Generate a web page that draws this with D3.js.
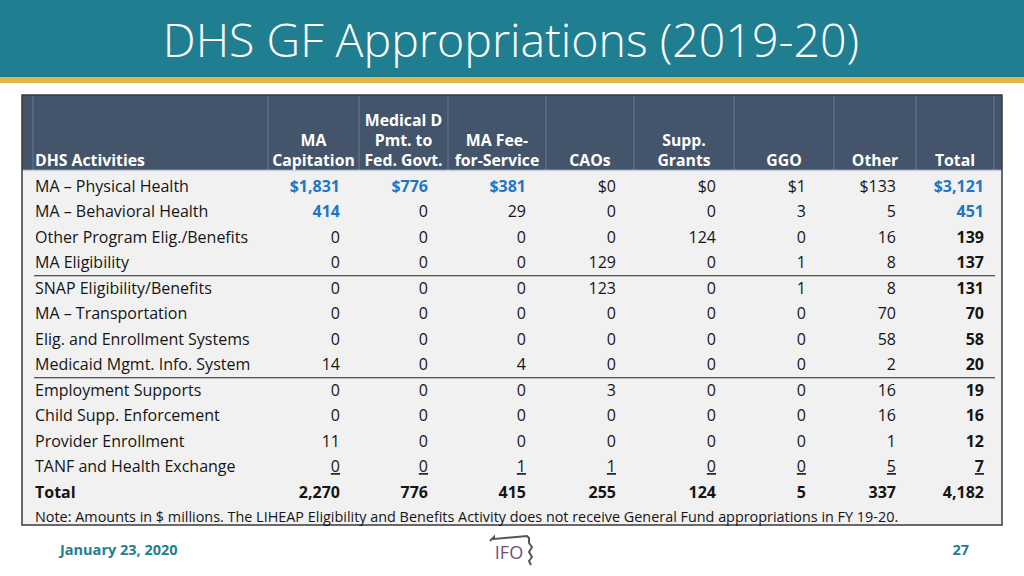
<!DOCTYPE html>
<html><head><meta charset="utf-8">
<script src="https://cdn.jsdelivr.net/npm/d3@7/dist/d3.min.js"></script>
<style>
html,body{margin:0;padding:0;background:#fff;}
svg{display:block;}
text{font-family:"Open Sans","Noto Sans",sans-serif;}
</style></head>
<body>
<script>
// ---------- DATA ----------
const title = "DHS GF Appropriations (2019-20)";
const activities = [
  "MA \u2013 Physical Health","MA \u2013 Behavioral Health","Other Program Elig./Benefits",
  "MA Eligibility","SNAP Eligibility/Benefits","MA \u2013 Transportation",
  "Elig. and Enrollment Systems","Medicaid Mgmt. Info. System","Employment Supports",
  "Child Supp. Enforcement","Provider Enrollment","TANF and Health Exchange"
];
const columnHeaders = [
  ["DHS Activities"],
  ["MA","Capitation"],
  ["Medical D","Pmt. to","Fed. Govt."],
  ["MA Fee-","for-Service"],
  ["CAOs"],
  ["Supp.","Grants"],
  ["GGO"],
  ["Other"],
  ["Total"]
];
const maCapitation = [1831, 414, 0, 0, 0, 0, 0, 14, 0, 0, 11, 0];
const medicalD     = [776, 0, 0, 0, 0, 0, 0, 0, 0, 0, 0, 0];
const maFeeForSvc  = [381, 29, 0, 0, 0, 0, 0, 4, 0, 0, 0, 1];
const caos         = [0, 0, 0, 129, 123, 0, 0, 0, 3, 0, 0, 1];
const suppGrants   = [0, 0, 124, 0, 0, 0, 0, 0, 0, 0, 0, 0];
const ggo          = [1, 3, 0, 1, 1, 0, 0, 0, 0, 0, 0, 0];
const other        = [133, 5, 16, 8, 8, 70, 58, 2, 16, 16, 1, 5];
const totals       = [3121, 451, 139, 137, 131, 70, 58, 20, 19, 16, 12, 7];
const columnTotals = [2270, 776, 415, 255, 124, 5, 337, 4182];
const totalLabel = "Total";
const note = "Note: Amounts in $ millions. The LIHEAP Eligibility and Benefits Activity does not receive General Fund appropriations in FY 19-20.";
const dateLabel = "January 23, 2020";
const pageNumber = "27";
// highlighted (blue) cells: [row, column]
const highlighted = [[0,0],[0,1],[0,2],[0,7],[1,0],[1,7]];
// rows after which a section rule is drawn
const sectionBreaks = [3, 7];

// ---------- LAYOUT ----------
const W = 1024, H = 576;
const tbl = {x0: 22, x1: 1002, y0: 95, headBottom: 170, y1: 525};
const colSeparators = [33, 268, 359, 448, 546, 634, 734, 834, 916, 994];
const valueRight = [340, 428, 526, 616, 716, 806, 896, 984];

const seriesCols = [maCapitation, medicalD, maFeeForSvc, caos, suppGrants, ggo, other, totals];
const nRows = activities.length + 1;

const svg = d3.select("body").append("svg").attr("width", W).attr("height", H);

// title bar
svg.append("rect").attr("x",0).attr("y",0).attr("width",W).attr("height",79).attr("fill","#1f7e90");
svg.append("rect").attr("x",0).attr("y",77).attr("width",W).attr("height",6).attr("fill","#e2b54a");
svg.append("text").attr("x",511).attr("y",57).attr("text-anchor","middle")
  .attr("fill","#fff").attr("font-size",46.5).attr("font-weight",300).text(title);

// table background
svg.append("rect").attr("x",tbl.x0).attr("y",tbl.y0).attr("width",tbl.x1-tbl.x0).attr("height",tbl.y1-tbl.y0)
  .attr("fill","#f1f1f1");
svg.append("rect").attr("x",tbl.x0).attr("y",tbl.y0).attr("width",tbl.x1-tbl.x0).attr("height",tbl.headBottom-tbl.y0)
  .attr("fill","#44546a");
// header column separators
svg.selectAll("line.sep").data(colSeparators).join("line").attr("class","sep")
  .attr("x1",d=>d).attr("x2",d=>d).attr("y1",tbl.y0).attr("y2",tbl.headBottom)
  .attr("stroke","#6b7a90").attr("stroke-width",1);
svg.append("line").attr("x1",tbl.x0).attr("x2",tbl.x1).attr("y1",tbl.headBottom+0.5).attr("y2",tbl.headBottom+0.5)
  .attr("stroke","#c9d3df").attr("stroke-width",1.5);
// outer border
svg.append("rect").attr("x",tbl.x0).attr("y",tbl.y0).attr("width",tbl.x1-tbl.x0).attr("height",tbl.y1-tbl.y0)
  .attr("fill","none").attr("stroke","#3a3a3a").attr("stroke-width",1.5);

// header text
const headLineY = d3.scaleLinear().domain([0,1]).range([160,140]); // from bottom line up
const headCenters = [null];
for (let i=1;i<colSeparators.length-1;i++) headCenters.push((colSeparators[i]+colSeparators[i+1])/2);
columnHeaders.forEach((lines,ci)=>{
  const g = svg.append("g");
  lines.slice().reverse().forEach((ln,k)=>{
    g.append("text")
      .attr("x", ci===0 ? 35 : headCenters[ci])
      .attr("y", headLineY(k)).attr("dy","0.35em")
      .attr("text-anchor", ci===0 ? "start" : "middle")
      .attr("fill","#fff").attr("font-weight",700).attr("font-size",15.8).text(ln);
  });
});

// rows
const y = d3.scaleBand().domain(d3.range(nRows)).range([173.25, 504.75]);
const rowC = i => y(i) + y.bandwidth()/2;
const fmt = d3.format(",");
const isHi = (r,c) => highlighted.some(h=>h[0]===r && h[1]===c);

const bodyFont = 16;
activities.forEach((a,r)=>{
  svg.append("text").attr("x",35).attr("y",rowC(r)).attr("dy","0.35em")
    .attr("font-size",bodyFont).attr("fill","#151515").text(a);
  seriesCols.forEach((col,c)=>{
    const v = col[r];
    const s = (r===0 ? "$" : "") + fmt(v);
    const t = svg.append("text").attr("x",valueRight[c]).attr("y",rowC(r)).attr("dy","0.35em")
      .attr("text-anchor","end").attr("font-size",bodyFont)
      .attr("fill", isHi(r,c) ? "#1f77c4" : "#151515")
      .attr("font-weight", (isHi(r,c) || c===7) ? 700 : 400)
      .text(s);
    if (r === activities.length-1) t.attr("text-decoration","underline");
  });
});
// total row
const tr = activities.length;
svg.append("text").attr("x",35).attr("y",rowC(tr)).attr("dy","0.35em")
  .attr("font-size",bodyFont).attr("font-weight",700).attr("fill","#151515").text(totalLabel);
columnTotals.forEach((v,c)=>{
  svg.append("text").attr("x",valueRight[c]).attr("y",rowC(tr)).attr("dy","0.35em")
    .attr("text-anchor","end").attr("font-size",bodyFont).attr("font-weight",700).attr("fill","#151515")
    .text(fmt(v));
});
// section rules
sectionBreaks.forEach(r=>{
  const yy = y(r) + y.bandwidth() + 0.5;
  svg.append("line").attr("x1",34).attr("x2",995).attr("y1",yy).attr("y2",yy)
    .attr("stroke","#222").attr("stroke-width",1.2);
});
// note
svg.append("text").attr("x",35).attr("y",517).attr("dy","0.35em")
  .attr("font-size",14.4).attr("fill","#151515").text(note);

// footer
svg.append("text").attr("x",60).attr("y",550).attr("dy","0.35em")
  .attr("font-size",14.5).attr("font-weight",700).attr("fill","#1f7e90").text(dateLabel);
svg.append("text").attr("x",969).attr("y",550).attr("dy","0.35em").attr("text-anchor","end")
  .attr("font-size",14.5).attr("font-weight",700).attr("fill","#1f7e90").text(pageNumber);
// IFO logo
const logo = svg.append("g").attr("transform","translate(487,535)");
logo.append("path").attr("d","M3,6 L7,2 L7,4 L40,1 L42,3 L42,8 L45,12 L42,17 L45,22 L42,26 L44,30")
  .attr("fill","none").attr("stroke","#555").attr("stroke-width",2);
logo.append("text").attr("x",22).attr("y",24).attr("text-anchor","middle")
  .attr("font-size",18).attr("font-weight",400).attr("fill","#6a5377").text("IFO");
</script>
</body></html>
